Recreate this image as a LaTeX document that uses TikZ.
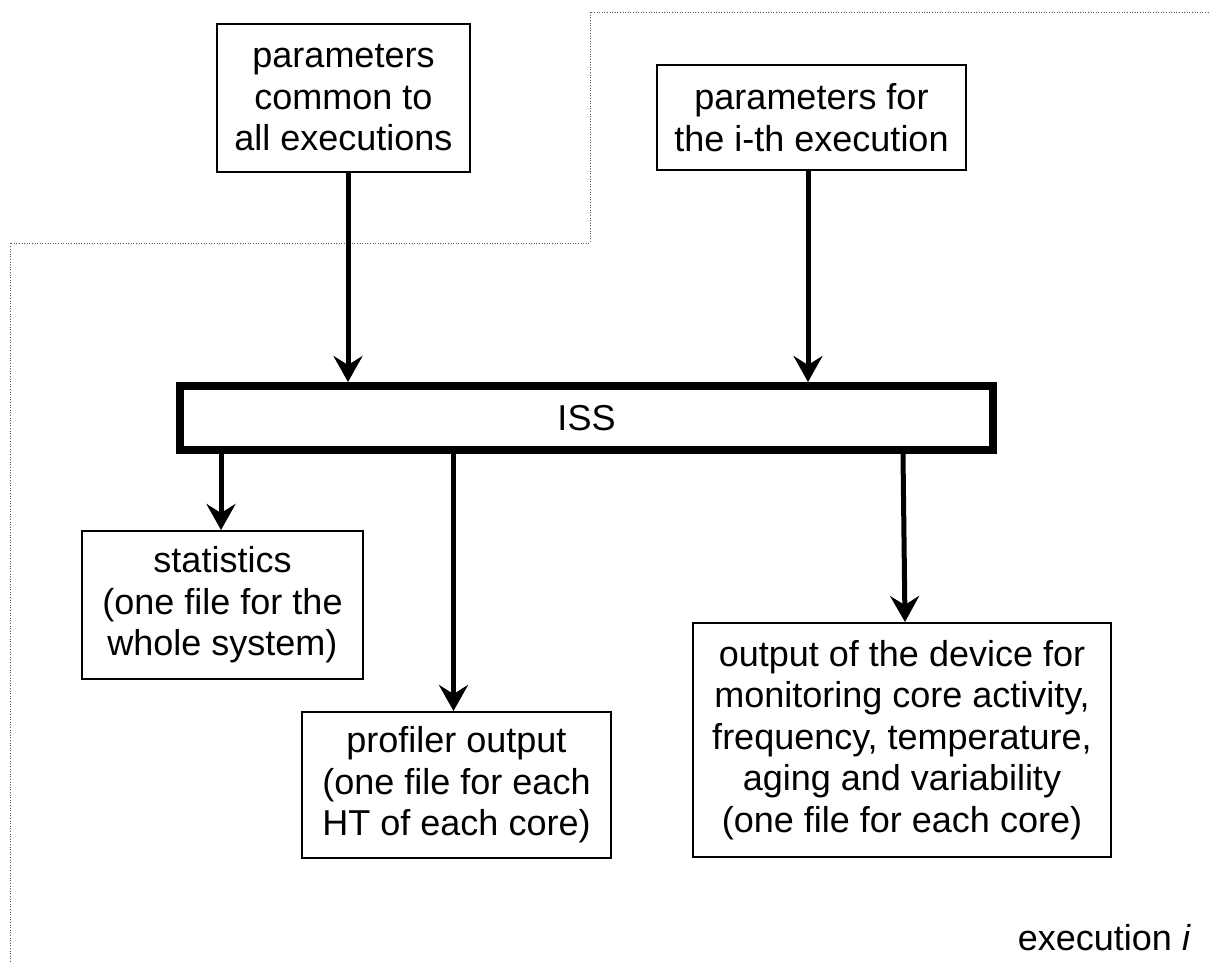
\documentclass[tikz,border=0pt]{standalone}
\usepackage{fontspec}
\setmainfont{Liberation Sans}
\usetikzlibrary{arrows.meta,calc}
\begin{document}
\begin{tikzpicture}[x=1pt,y=-1pt,
  every node/.style={font=\fontsize{36}{41.5}\selectfont, align=center, inner sep=0pt},
  filebox/.style={draw, line width=2pt, minimum width=#1},
  arr/.style={line width=5pt, -{Stealth[length=26pt,width=29pt,inset=9pt]}},
  region/.style={line width=1pt, gray!70!black, dash pattern=on 1pt off 1.6pt}]
\useasboundingbox (0,0) rectangle (1210,962);

% boundary of one execution
\draw[region] (10,962) -- (10,243) -- (590,243) -- (590,12) -- (1212,12);

% inputs
\node[filebox=253pt, minimum height=148pt] (common) at (343.5,98) {parameters\\common to\\all executions};
\node[filebox=309pt, minimum height=105pt] (ith) at (811.5,117.5) {parameters for\\the i-th execution};

% simulator
\node[draw, line width=8pt, minimum width=813pt, minimum height=64pt] (iss) at (586.5,418) {ISS};

% outputs
\node[filebox=281pt, minimum height=148pt] (stats) at (222.5,605) {statistics\\(one file for the\\whole system)};
\node[filebox=309pt, minimum height=146pt] (prof) at (456.5,785) {profiler output\\(one file for each\\HT of each core)};
\node[filebox=418pt, minimum height=234pt] (mon) at (902,740) {output of the device for\\monitoring core activity,\\frequency, temperature,\\aging and variability\\(one file for each core)};

\node[anchor=base east] (exec) at (1191,950) {execution \textit{i}};

% connectors
\draw[arr] ([xshift=4.5]common.south) -- ([xshift=4.5]common.south |- iss.north);
\draw[arr] ([xshift=-3.5]ith.south) -- ([xshift=-3.5]ith.south |- iss.north);
\draw[arr] ([xshift=-1.5]stats.north |- iss.south) -- ([xshift=-1.5]stats.north);
\draw[arr] ([xshift=-3]prof.north |- iss.south) -- ([xshift=-3]prof.north);
\draw[arr] ([xshift=1]mon.north |- iss.south) -- ([xshift=3]mon.north);
\end{tikzpicture}
\end{document}
